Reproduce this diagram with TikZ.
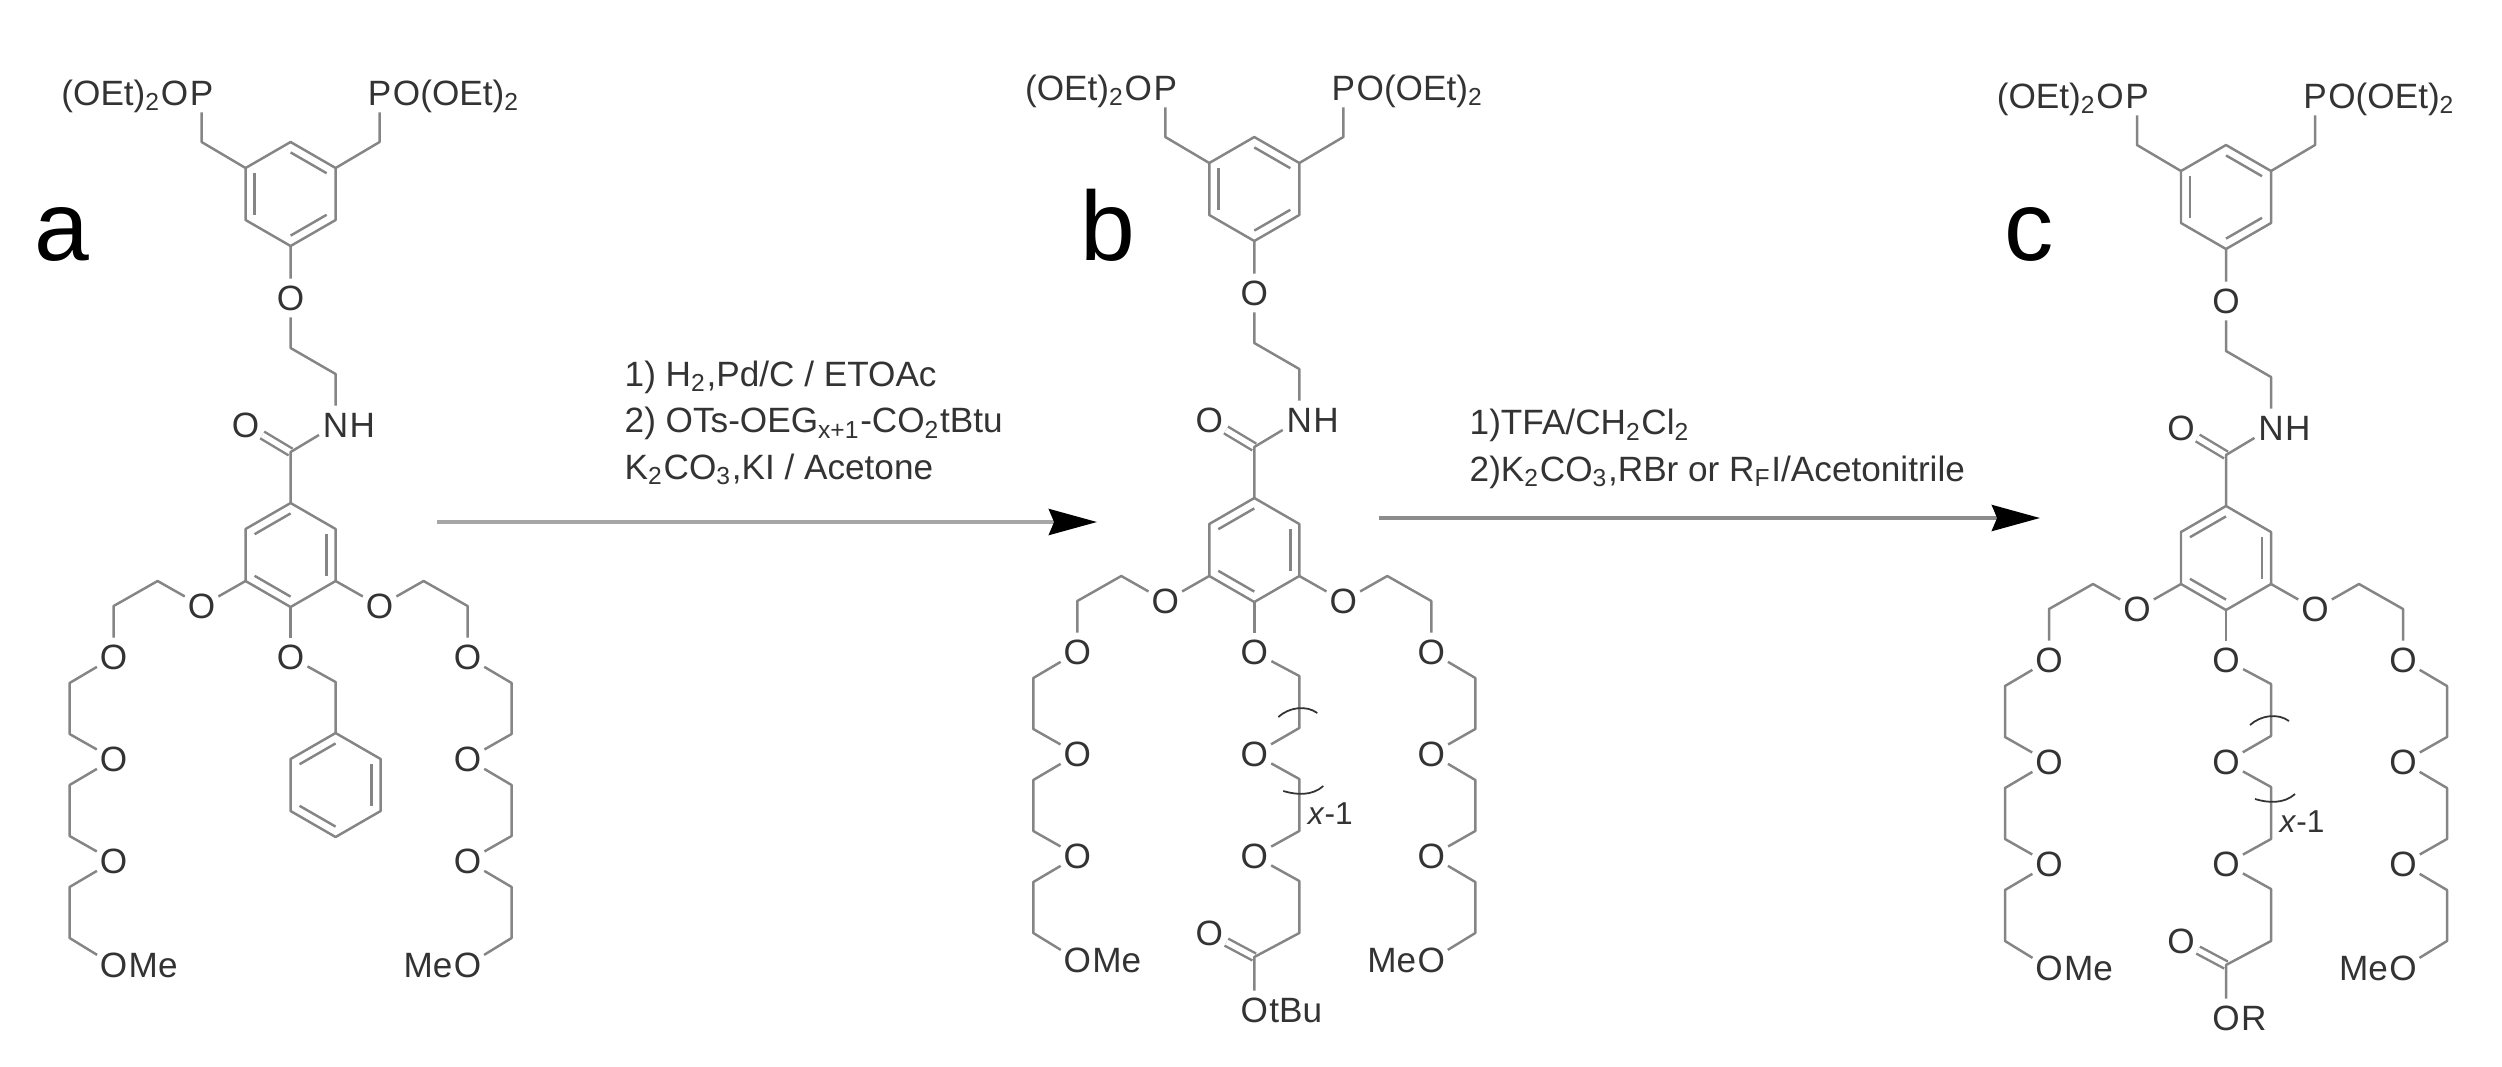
\documentclass[tikz,border=0pt]{standalone}
\usepackage{fontspec}
\setmainfont{Liberation Sans}
\usetikzlibrary{arrows.meta, positioning, calc}

\definecolor{bondgray}{HTML}{858585}
\definecolor{atomgray}{HTML}{333333}

% six-membered ring: name, centre x, centre y, inner double bonds
\newcommand{\benzring}[4]{%
  \foreach \v/\vang in {1/90,2/150,3/210,4/270,5/330,6/30}
    \coordinate (#1\v) at ({#2+52*cos(\vang)},{#3-52*sin(\vang)});
  \coordinate (#1c) at (#2,#3);
  \draw[bond] (#11) -- (#12) -- (#13) -- (#14) -- (#15) -- (#16) -- cycle;
  \foreach \p/\q in {#4}
    \draw[bond] ($(#1\p)!0.2!(#1c)$) -- ($(#1\q)!0.2!(#1c)$);
}

\begin{document}
\begin{tikzpicture}[>=Latex, x=0.01cm, y=-0.01cm,
    bond/.style={draw=bondgray, line width=0.7pt, line join=round},
    dbond/.style={bond, double, double distance=1.5pt},
    atom/.style={circle, inner sep=0pt, minimum size=10.6pt, text=atomgray,
      font=\fontsize{10}{12}\selectfont, text height=7.2pt, text depth=0pt},
    tail/.style={inner sep=0pt, text=atomgray,
      font=\fontsize{10}{12}\selectfont, text height=7.2pt, text depth=0pt},
    reagent/.style={anchor=west, align=left, inner sep=0pt, text=atomgray,
      font=\fontsize{10}{13.2}\selectfont},
    panel/.style={anchor=base west, inner sep=0pt, text=black,
      font=\fontsize{28}{34}\selectfont},
    rxn/.style={line width=1.1pt,
      -{Stealth[length=13.7pt, width=7.4pt, inset=1.5pt, black]}}]
    \useasboundingbox (0,0) rectangle (2502,1066);

    % Shared part of the three molecules
    \foreach \mol/\molx/\moly in {a/290.6/0,b/1254.3/-5,c/2226/3}{
      \begin{scope}[shift={(\molx,\moly)}]
        \benzring{\mol top}{0}{194}{1/6,2/3,4/5}
        \benzring{\mol low}{0}{555}{1/2,5/6,3/4}

        % Amide linker
        \node[atom] (\mol Oa) at (0,298) {O};
        \coordinate (\mol ca) at (0,348);
        \coordinate (\mol cb) at (45,374);
        \node[atom] (\mol N) at (45,425) {N};
        \node[tail, right=-1.7pt of \mol N] (\mol H) {H};
        \coordinate (\mol C) at (0,452);
        \node[atom] (\mol Oc) at (-45,425) {O};
        \draw[dbond] (\mol C) -- (\mol Oc);
        \draw[bond] (\mol top4) -- (\mol Oa) -- (\mol ca) -- (\mol cb) -- (\mol N);
        \draw[bond] (\mol N) -- (\mol C) -- (\mol low1);

        % Phosphonate arms and glycol chains
        \foreach \s/\sgn/\up/\lo in {l/-1/2/3,r/1/6/5}{
          \node[atom] (\mol\s P) at ({\sgn*89},93) {P};
          \coordinate (\mol\s m) at ({\sgn*89},142);
          \draw[bond] (\mol\s P) -- (\mol\s m) -- (\mol top\up);

          \node[atom] (\mol\s E0) at ({\sgn*89},606) {O};
          \coordinate (\mol\s k) at ({\sgn*133},581);
          \coordinate (\mol\s j) at ({\sgn*177},606);
          \foreach \n/\yy in {1/657,2/759,3/861,4/965}
            \node[atom] (\mol\s E\n) at ({\sgn*177},\yy) {O};
          \draw[bond] (\mol low\lo) -- (\mol\s E0) -- (\mol\s k) -- (\mol\s j) -- (\mol\s E1);
          \foreach \n/\nn/\yy in {1/2/657,2/3/759,3/4/861}{
            \coordinate (\mol\s u\n) at ({\sgn*221},\yy+26);
            \coordinate (\mol\s v\n) at ({\sgn*221},\yy+77);
            \draw[bond] (\mol\s E\n) -- (\mol\s u\n) -- (\mol\s v\n) -- (\mol\s E\nn);
          }
        }
        \node[tail, left=-1.9pt of \mol lP] (\mol lPtext) {(OEt)\textsubscript{2}O};
        \node[tail, right=-1.9pt of \mol rP] (\mol rPtext) {O(OEt)\textsubscript{2}};
        \node[tail, right=-1.4pt of \mol lE4] (\mol lMe) {Me};
        \node[tail, left=-1.4pt of \mol rE4] (\mol rMe) {Me};

        \node[atom] (\mol Ob) at (0,657) {O};
        \draw[bond] (\mol low4) -- (\mol Ob);
      \end{scope}
    }

    % Benzyl group of a
    \begin{scope}[shift={(290.6,0)}]
      \coordinate (abz) at (45,682);
      \benzring{aph}{45}{785}{1/2,5/6,3/4}
      \draw[bond] (aOb) -- (abz) -- (aph1);
    \end{scope}

    % Glycol arm of b and c
    \foreach \mol/\molx/\moly/\ester in {b/1254.3/-5/tBu,c/2226/3/R}{
      \begin{scope}[shift={(\molx,\moly)}]
        \coordinate (\mol p1) at (45,681);
        \coordinate (\mol p2) at (45,733);
        \node[atom] (\mol Od) at (0,759) {O};
        \coordinate (\mol p3) at (45,784);
        \coordinate (\mol p4) at (45,836);
        \node[atom] (\mol Oe) at (0,861) {O};
        \coordinate (\mol p5) at (45,886);
        \coordinate (\mol p6) at (45,938);
        \coordinate (\mol Cx) at (0,962);
        \node[atom] (\mol Of) at (-45,938) {O};
        \node[atom] (\mol Og) at (0,1015) {O};
        \node[tail, right=-1.4pt of \mol Og] (\mol est) {\ester};
        \draw[dbond] (\mol Cx) -- (\mol Of);
        \draw[bond] (\mol Ob) -- (\mol p1) -- (\mol p2) -- (\mol Od) -- (\mol p3) -- (\mol p4)
          -- (\mol Oe) -- (\mol p5) -- (\mol p6) -- (\mol Cx) -- (\mol Og);

        % Repeat unit brackets
        \draw[atomgray, line width=0.5pt] (24,722) .. controls (35,712) and (52,710) .. (63,718);
        \draw[atomgray, line width=0.5pt] (29,796) .. controls (42,800) and (58,801) .. (69,791);
        \node[tail, font=\fontsize{9}{11}\selectfont] (\mol rep) at (76,817) {\textit{x}-1};
      \end{scope}
    }

    % Panel letters
    \node[panel] (laba) at (34,260) {a};
    \node[panel] (labb) at (1080,260) {b};
    \node[panel] (labc) at (2004,260) {c};

    % Reaction arrows
    \coordinate (arra1) at (437,522);
    \coordinate (arra2) at (1097,522);
    \coordinate (arrb1) at (1379,518);
    \coordinate (arrb2) at (2040,518);
    \draw[rxn, draw=black!35] (arra1) -- (arra2);
    \draw[rxn, draw=black!45] (arrb1) -- (arrb2);
    \node[reagent] (reaga) at (624,423) {1) H\textsubscript{2},Pd/C / ETOAc\\
      2) OTs-OEG\textsubscript{x+1}-CO\textsubscript{2}tBtu\\
      K\textsubscript{2}CO\textsubscript{3},KI / Acetone};
    \node[reagent] (reagb) at (1469,449) {1)TFA/CH\textsubscript{2}Cl\textsubscript{2}\\
      2)K\textsubscript{2}CO\textsubscript{3},RBr or R\textsubscript{F}I/Acetonitrile};

  \end{tikzpicture}
\end{document}
